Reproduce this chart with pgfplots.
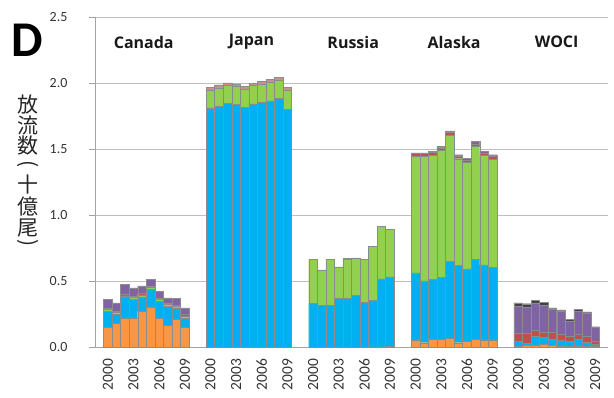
\documentclass[border=0pt]{standalone}
\usepackage{pgfplots}
\pgfplotsset{compat=1.18}
\usepackage{pgfplotstable}
\usepackage{fontspec}
\setmainfont{Carlito}
\newfontfamily\cjk{Noto Sans CJK JP}
\newfontfamily\grp{Open Sans}
\definecolor{cSo}{HTML}{F79646}
\definecolor{cCh}{HTML}{00B0F0}
\definecolor{cPi}{HTML}{92D050}
\definecolor{cCo}{HTML}{C0504D}
\definecolor{cMa}{HTML}{C8918A}
\definecolor{cCk}{HTML}{8064A2}
\definecolor{cSt}{HTML}{404040}
\definecolor{cEdge}{HTML}{8C8C8C}
\definecolor{cTxt}{HTML}{333333}

\pgfplotstableread{
x  so    ch    pi    co    ma    ck    st
1  0.150 0.125 0.012 0.012 0     0.065 0
2  0.183 0.070 0.012 0.012 0     0.061 0
3  0.225 0.154 0.012 0.012 0     0.074 0
4  0.225 0.141 0.012 0.012 0     0.061 0
5  0.275 0.108 0.012 0.012 0     0.059 0
6  0.308 0.134 0.012 0.012 0     0.049 0
7  0.225 0.126 0.012 0.012 0     0.051 0
8  0.167 0.146 0.012 0.012 0     0.039 0
9  0.215 0.085 0.012 0.008 0     0.051 0
10 0.150 0.075 0.012 0.012 0     0.051 0
13 0     1.813 0.136 0     0.019 0     0
14 0     1.825 0.139 0     0.022 0     0
15 0     1.845 0.136 0     0.020 0     0
16 0     1.838 0.136 0     0.020 0     0
17 0     1.815 0.138 0     0.021 0     0
18 0     1.843 0.138 0     0.018 0     0
19 0     1.855 0.139 0     0.020 0     0
20 0     1.866 0.143 0     0.020 0     0
21 0     1.885 0.139 0     0.020 0     0
22 0     1.802 0.147 0     0.019 0     0
25 0     0.333 0.335 0     0     0     0
26 0     0.318 0.269 0     0     0     0
27 0     0.321 0.345 0     0     0     0
28 0     0.371 0.239 0     0     0     0
29 0     0.371 0.295 0     0.010 0     0
30 0     0.396 0.277 0     0.004 0     0
31 0     0.343 0.323 0     0     0     0
32 0.004 0.354 0.408 0     0     0     0
33 0.004 0.515 0.400 0     0     0     0
34 0.008 0.526 0.358 0     0     0     0
37 0.058 0.507 0.880 0.021 0     0.007 0
38 0.036 0.468 0.941 0.021 0     0.007 0
39 0.062 0.455 0.938 0.020 0     0.008 0
40 0.062 0.468 0.960 0.021 0     0.010 0
41 0.069 0.584 0.953 0.020 0     0.013 0
42 0.036 0.584 0.808 0.020 0     0.010 0
43 0.049 0.546 0.805 0.017 0     0.013 0
44 0.062 0.604 0.855 0.020 0     0.017 0
45 0.058 0.567 0.828 0.020 0     0.012 0
46 0.058 0.549 0.818 0.023 0     0.010 0
49 0.012 0.032 0     0.063 0     0.208 0.023
50 0.015 0.017 0     0.075 0     0.201 0.023
51 0.019 0.063 0     0.050 0     0.206 0.020
52 0.026 0.051 0     0.042 0     0.202 0.020
53 0.015 0.047 0     0.057 0     0.169 0.012
54 0.012 0.045 0     0.043 0     0.175 0.010
55 0.010 0.039 0     0.038 0     0.115 0.011
56 0.012 0.050 0     0.040 0     0.173 0.016
57 0.010 0.029 0     0.043 0     0.181 0.007
58 0.007 0.019 0     0.025 0     0.106 0
}\data

\begin{document}
\begin{tikzpicture}
\begin{axis}[
  scale only axis, width=513pt, height=330.5pt,
  at={(0pt,0pt)}, anchor=south west,
  xmin=-0.5, xmax=59.5, ymin=0, ymax=2.5,
  enlargelimits=false,
  ybar stacked, bar width=1,
  axis x line*=bottom, axis y line*=left,
  x axis line style={-, draw=cEdge!80}, y axis line style={-, draw=cEdge!80},
  ytick={0,0.5,1,1.5,2,2.5},
  yticklabel style={/pgf/number format/fixed, /pgf/number format/fixed zerofill, /pgf/number format/precision=1, /pgf/number format/assume math mode=true},
  y tick label style={font=\fontsize{14}{14}\selectfont, text=cTxt, xshift=-18pt},
  tick align=outside, major tick length=6pt,
  ytick style={draw=cEdge!80},
  xtick={1,4,7,10,13,16,19,22,25,28,31,34,37,40,43,46,49,52,55,58},
  xticklabels={2000,2003,2006,2009,2000,2003,2006,2009,2000,2003,2006,2009,2000,2003,2006,2009,2000,2003,2006,2009},
  xtick style={draw=none},
  xticklabel shift=2pt,
  x tick label style={rotate=90, anchor=east, font=\fontsize{15.5}{15.5}\selectfont, text=cTxt},
  ymajorgrids, grid style={draw=black!25, line width=0.6pt},
  every axis plot/.append style={draw=cEdge, line width=0.4pt},
  clip=false,
]
\addplot[fill=cSo] table[x=x,y=so]{\data};
\addplot[fill=cCh] table[x=x,y=ch]{\data};
\addplot[fill=cPi] table[x=x,y=pi]{\data};
\addplot[fill=cCo] table[x=x,y=co]{\data};
\addplot[fill=cMa] table[x=x,y=ma]{\data};
\addplot[fill=cCk] table[x=x,y=ck]{\data};
\addplot[fill=cSt] table[x=x,y=st]{\data};
\node[font=\grp\bfseries\fontsize{16}{16}\selectfont, text=black!90] at (axis cs:5.2,2.31) {Canada};
\node[font=\grp\bfseries\fontsize{16}{16}\selectfont, text=black!90] at (axis cs:17.8,2.31) {Japan};
\node[font=\grp\bfseries\fontsize{16}{16}\selectfont, text=black!90] at (axis cs:29.7,2.31) {Russia};
\node[font=\grp\bfseries\fontsize{16}{16}\selectfont, text=black!90] at (axis cs:41.5,2.31) {Alaska};
\node[font=\grp\bfseries\fontsize{16}{16}\selectfont, text=black!90] at (axis cs:53.5,2.31) {WOCI};
\end{axis}
\node[font=\bfseries\fontsize{50}{50}\selectfont] at (-68pt,307.5pt) {D};
\begin{scope}[every node/.style={font=\cjk\fontsize{21}{21}\selectfont, text=black!85, inner sep=0pt}]
\node at (-67pt,242.5pt) {放};
\node at (-67pt,221.5pt) {流};
\node at (-67pt,201.5pt) {数};
\node[rotate=-90] at (-67pt,183.5pt) {(};
\node at (-67pt,162.5pt) {十};
\node at (-67pt,140.5pt) {億};
\node at (-67pt,119.5pt) {尾};
\node[rotate=-90] at (-67pt,104.5pt) {)};
\end{scope}
\pgfresetboundingbox
\path[use as bounding box] (-95pt,-50.5pt) rectangle (519pt,347.5pt);
\end{tikzpicture}
\end{document}
